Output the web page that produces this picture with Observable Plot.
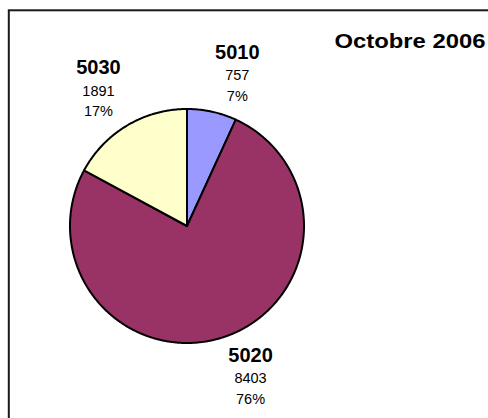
<!DOCTYPE html>
<html><head><meta charset="utf-8">
<script src="https://cdn.jsdelivr.net/npm/d3@7"></script>
<script src="https://cdn.jsdelivr.net/npm/@observablehq/plot@0.6"></script>
<style>
body{margin:0;background:#fff;}
svg{display:block;font-family:"Liberation Sans",Arial,sans-serif;}
</style>
</head><body><div id="chart"></div>
<script>
// ---- data ----
const categories = ["5010", "5020", "5030"];
const values = [757, 8403, 1891];
const colors = ["#9999FF", "#993366", "#FFFFCC"];
const title = "Octobre 2006";

// ---- layout ----
const W = 488, H = 418;
const CX = 186.5, CY = 225.5, R = 117;   // pie centre & radius (px)
const total = d3.sum(values);
const arcs = d3.pie().sort(null).value(d => d)(values);

// slice polygons in unit coordinates (x right, y down)
const slicePts = [];
arcs.forEach((a, i) => {
  const key = categories[i];
  const n = Math.max(2, Math.ceil((a.endAngle - a.startAngle) / (Math.PI / 360)));
  slicePts.push({key, x: 0, y: 0});
  for (let k = 0; k <= n; k++) {
    const t = a.startAngle + (a.endAngle - a.startAngle) * k / n;
    slicePts.push({key, x: Math.sin(t), y: -Math.cos(t)});
  }
  slicePts.push({key, x: 0, y: 0});
});

// labels: box corner at R+11 along bisector, box extends outward
const BOXW = 46, BOXH = 56.5, GAP = 11;
const lines = [];
arcs.forEach((a, i) => {
  const mid = (a.startAngle + a.endAngle) / 2;
  const s = Math.sin(mid), c = -Math.cos(mid);
  const px = s * (R + GAP), py = c * (R + GAP);
  const bx = px + Math.sign(s) * BOXW / 2;
  const top = c < 0 ? py - BOXH : py;
  const pct = Math.round(values[i] / total * 100) + "%";
  lines.push({x: bx / R, y: (top + 14.5 - 0.32 * 20) / R, text: categories[i], bold: true});
  lines.push({x: bx / R, y: (top + 36 - 0.32 * 14.5) / R, text: String(values[i]), bold: false});
  lines.push({x: bx / R, y: (top + 56.5 - 0.32 * 14.5) / R, text: pct, bold: false});
});

const chart = Plot.plot({
  width: W, height: H,
  margin: 0,
  style: {background: "#fff", fontFamily: "'Liberation Sans', Arial, sans-serif"},
  x: {domain: [-1, 1], range: [CX - R, CX + R], axis: null},
  y: {domain: [-1, 1], range: [CY - R, CY + R], axis: null},
  color: {domain: categories, range: colors},
  marks: [
    Plot.frame({stroke: "#1a1a1a", strokeWidth: 2, insetLeft: 8.3, insetTop: 9.8, insetRight: -10, insetBottom: -10}),
    Plot.line(slicePts, {x: "x", y: "y", z: "key", fill: "key", stroke: "#000", strokeWidth: 2, strokeLinejoin: "round", curve: "linear"}),
    Plot.text(lines.filter(d => d.bold), {x: "x", y: "y", text: "text", fontSize: 20, fontWeight: "bold", fill: "#000", textAnchor: "middle", lineAnchor: "middle"}),
    Plot.text(lines.filter(d => !d.bold), {x: "x", y: "y", text: "text", fontSize: 14.5, fill: "#000", textAnchor: "middle", lineAnchor: "middle"}),
    Plot.text([title], {frameAnchor: "top-left", dx: 334, dy: 47.3 - 0.32 * 20, text: d => d, fontSize: 20, fontWeight: "bold", fill: "#000", textAnchor: "start", lineAnchor: "middle"})
  ]
});
document.getElementById("chart").appendChild(chart);
d3.select(chart).selectAll("text").filter(function() { return this.textContent === title; })
  .attr("textLength", 151).attr("lengthAdjust", "spacingAndGlyphs");
</script>
</body></html>
